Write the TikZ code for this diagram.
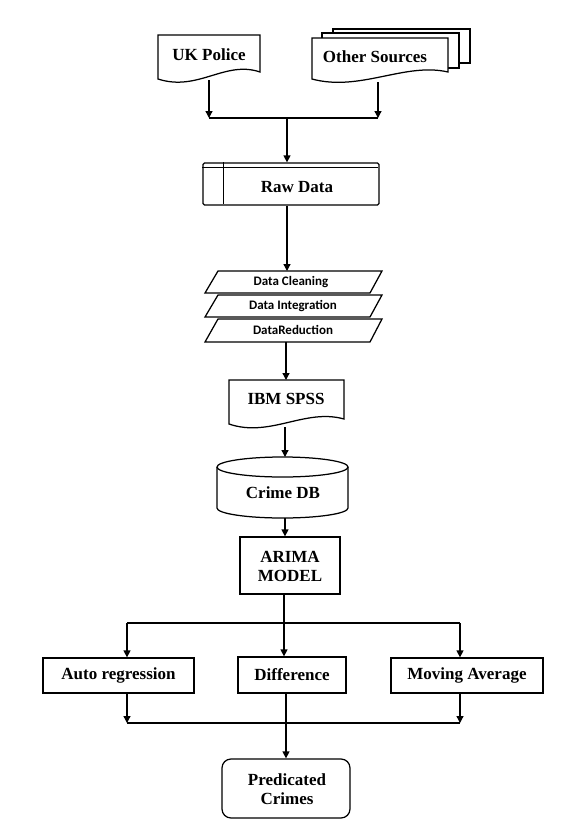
\documentclass[tikz,border=0pt]{standalone}
\usepackage{fontspec}
\setmainfont{Liberation Serif}
\newfontfamily\smallsans{Carlito}
\usetikzlibrary{arrows.meta}
\begin{document}
\begin{tikzpicture}[x=1pt,y=-1pt,line width=1.25pt,
  lbl/.style={font=\fontsize{17}{19}\selectfont\bfseries,inner sep=0pt,align=center},
  sml/.style={font=\smallsans\fontsize{13}{14}\selectfont\bfseries,inner sep=0pt},
  pbox/.style={draw,lbl,inner sep=0pt},
  arr/.style={-{Triangle[length=7pt,width=7pt]}},
  ln/.style={line cap=rect}]
\useasboundingbox[fill=white] (0,0) rectangle (567,823);

% ---------- UK Police (document)
\draw[fill=white] (158,35) -- (260,35) -- (260,72)
  .. controls (225,60) and (198,92) .. (158,79) -- cycle;
\node[lbl] (ukp) at (209,55) {UK Police};
\coordinate (ukpb) at (209,80);

% ---------- Other Sources (multi-document)
\draw[fill=white] (333,29) rectangle (470,63);
\draw[fill=white] (322,33) rectangle (459,68);
\draw[fill=white] (312,38) -- (448,38) -- (448,72)
  .. controls (405,62) and (360,92) .. (312,79) -- cycle;
\node[lbl] (oth) at (375,57) {Other Sources};
\coordinate (othb) at (378,82);

\coordinate (j1l) at (209,118);
\coordinate (j1r) at (378,118);
\coordinate (j1m) at (287,118);
\draw[arr] (ukpb) -- (j1l);
\draw[arr] (othb) -- (j1r);
\draw (j1l) -- (j1r);

% ---------- Raw Data
\node[draw,rounded corners=1.5pt,minimum width=176pt,minimum height=42pt,inner sep=0pt] (raw) at (291,184) {};
\draw (raw.north west) ++(0,5) -- ++(176,0);
\draw (raw.north west) ++(21,0) -- ++(0,42);
\node[lbl] (rawt) at (297,187) {Raw Data};
\draw[arr] (j1m) -- (raw.north -| j1m);

% ---------- Parallelograms
\draw[fill=white] (218,271) -- (382,271) -- (370,293) -- (205,293) -- cycle;
\node[sml] (dc) at (291,282) {Data Cleaning};
\draw[fill=white] (218,295) -- (382,295) -- (370,317) -- (205,317) -- cycle;
\node[sml] (di) at (293,306) {Data Integration};
\draw[fill=white] (218,319) -- (382,319) -- (370,342) -- (205,342) -- cycle;
\node[sml] (dr) at (293,330) {DataReduction};
\coordinate (dctop) at (287,271);
\coordinate (drbot) at (286,342);
\draw[arr] (raw.south -| dctop) -- (dctop);

% ---------- IBM SPSS (document)
\draw[fill=white] (229,380) -- (344,380) -- (344,419)
  .. controls (305,408) and (270,438) .. (229,424) -- cycle;
\node[lbl] (spss) at (286,399) {IBM SPSS};
\coordinate (spsst) at (286,380);
\coordinate (spssb) at (285,427);
\draw[arr] (drbot) -- (spsst);

% ---------- Crime DB (cylinder)
\draw[fill=white] (217,467) -- (217,508) arc[start angle=180,end angle=360,x radius=65.5pt,y radius=10pt] -- (348,467);
\draw (282.5,467) ellipse[x radius=65.5pt,y radius=10pt];
\node[lbl] (db) at (283,493) {Crime DB};
\coordinate (dbt) at (285,457);
\coordinate (dbb) at (285,518);
\draw[arr] (spssb) -- (dbt);

% ---------- ARIMA
\node[draw,minimum width=100pt,minimum height=57pt,inner sep=0pt] (arima) at (290,565.5) {};
\node[lbl] (arimat) at (290,566) {ARIMA\\MODEL};
\draw[arr] (dbb) -- (dbb |- arima.north);

% ---------- three methods
\node[pbox,minimum width=151pt,minimum height=35pt] (ar) at (118.5,675.5) {Auto regression};
\node[pbox,minimum width=108pt,minimum height=36pt] (df) at (292,675) {Difference};
\node[pbox,minimum width=152pt,minimum height=35pt] (ma) at (467,675.5) {Moving Average};

\coordinate (j2l) at (127,623);
\coordinate (j2r) at (460,623);
\coordinate (j2m) at (284,623);
\draw (j2l) -- (j2r);
\draw (j2m |- arima.south) -- (j2m);
\draw[arr] (j2m) -- (j2m |- df.north);
\draw[arr] (j2l) -- (j2l |- ar.north);
\draw[arr] (j2r) -- (j2r |- ma.north);

% ---------- bottom merge
\coordinate (j3l) at (127,723);
\coordinate (j3r) at (460,723);
\coordinate (j3m) at (286,723);
\draw[arr] (j3l |- ar.south) -- (j3l);
\draw[arr] (j3r |- ma.south) -- (j3r);
\draw (j3l) -- (j3r);

% ---------- Predicated Crimes
\node[draw,rounded corners=9pt,minimum width=128pt,minimum height=59pt,inner sep=0pt] (pc) at (286,788.5) {};
\node[lbl] (pct) at (287,789) {Predicated\\Crimes};
\draw[arr] (j3m |- df.south) -- (j3m |- pc.north);
\end{tikzpicture}
\end{document}
